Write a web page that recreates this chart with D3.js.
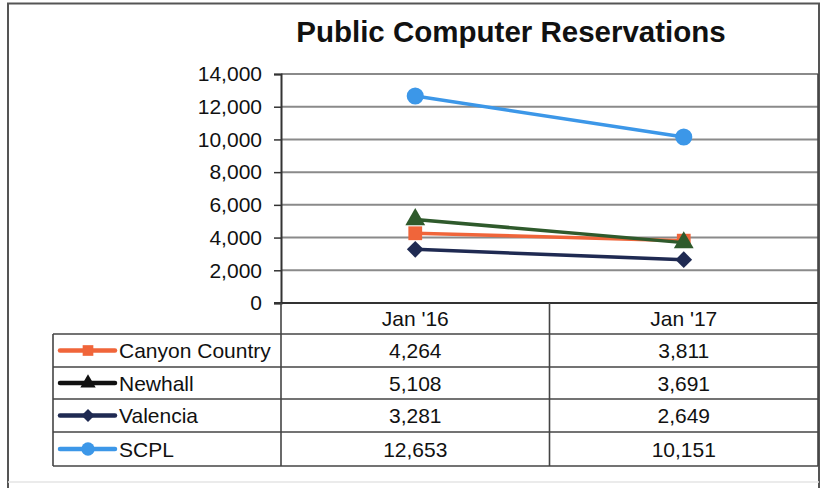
<!DOCTYPE html>
<html><head><meta charset="utf-8">
<script src="https://cdn.jsdelivr.net/npm/d3@7"></script>
<style>body{margin:0;background:#fff}svg{display:block}text{font-family:"Liberation Sans",Arial,sans-serif;fill:#111}</style>
</head><body>
<svg id="c" width="821" height="488"></svg>
<script>
const categories = ["Jan '16", "Jan '17"];
const seriesNames = ["Canyon Country", "Newhall", "Valencia", "SCPL"];
const canyonCountry = [4264, 3811];
const newhall = [5108, 3691];
const valencia = [3281, 2649];
const scpl = [12653, 10151];
const yTicks = [0, 2000, 4000, 6000, 8000, 10000, 12000, 14000];
const chartTitle = "Public Computer Reservations";

(function () {
const seriesValues = [canyonCountry, newhall, valencia, scpl];
const lineColors = ["#f0653a", "#2f5a2c", "#1f2a52", "#3c97e8"];
const legendColors = ["#f0653a", "#111111", "#1f2a52", "#3c97e8"];
const markers = [d3.symbolSquare, d3.symbolTriangle, d3.symbolSquare, d3.symbolCircle];
const rotations = [0, 0, 45, 0];
const markerSizes = [190, 170, 140, 230];

const svg = d3.select("#c");
const pLeft = 281, pRight = 818, pTop = 74, pBottom = 303;
const tableLeft = 53, rowTops = [334, 367, 399, 432, 466];

// outer frame
svg.append("path").attr("d", `M8,488 V3.5 H819 V488`).attr("fill", "none").attr("stroke", "#555").attr("stroke-width", 2);
svg.append("line").attr("x1", 8).attr("x2", 819).attr("y1", 482).attr("y2", 482).attr("stroke", "#e4e4e4").attr("stroke-width", 1.5);

svg.append("text").attr("x", 511).attr("y", 42).attr("text-anchor", "middle")
  .attr("font-size", 29.5).attr("font-weight", "bold").text(chartTitle);

const x = d3.scaleBand().domain(categories).range([pLeft, pRight]);
const y = d3.scaleLinear().domain([0, 14000]).range([pBottom, pTop]);

// gridlines
svg.append("g").selectAll("line").data(yTicks.filter(t => t > 0)).join("line")
  .attr("x1", pLeft).attr("x2", pRight).attr("y1", d => y(d)).attr("y2", d => y(d))
  .attr("stroke", "#8a8a8a").attr("stroke-width", 2);

// y axis
const yAxis = svg.append("g").attr("transform", `translate(${pLeft},0)`)
  .call(d3.axisLeft(y).tickValues(yTicks).tickSize(7).tickPadding(12).tickFormat(d3.format(",")));
yAxis.select(".domain").attr("stroke", "#333").attr("stroke-width", 2);
yAxis.selectAll(".tick line").attr("stroke", "#333").attr("stroke-width", 1.5);
yAxis.selectAll("text").attr("font-size", 21).attr("fill", "#111").attr("font-family", '"Liberation Sans",Arial,sans-serif');

// x axis line
svg.append("line").attr("x1", pLeft - 7).attr("x2", pRight).attr("y1", pBottom).attr("y2", pBottom).attr("stroke", "#333").attr("stroke-width", 2);

// table grid
const tg = svg.append("g").attr("stroke", "#444").attr("stroke-width", 1.6);
rowTops.forEach(r => tg.append("line").attr("x1", tableLeft).attr("x2", pRight).attr("y1", r).attr("y2", r));
tg.append("line").attr("x1", tableLeft).attr("x2", tableLeft).attr("y1", rowTops[0]).attr("y2", rowTops[4]);
tg.append("line").attr("x1", pLeft).attr("x2", pLeft).attr("y1", pBottom).attr("y2", rowTops[4]);
categories.slice(1).forEach(c => tg.append("line").attr("x1", x(c)).attr("x2", x(c)).attr("y1", pBottom).attr("y2", rowTops[4]));
tg.append("line").attr("x1", pRight).attr("x2", pRight).attr("y1", pTop).attr("y2", rowTops[4]);

// header labels
svg.append("g").selectAll("text").data(categories).join("text")
  .attr("x", d => x(d) + x.bandwidth() / 2).attr("y", 326).attr("text-anchor", "middle")
  .attr("font-size", 21).text(d => d);

// lines + markers
const line = d3.line().x((d, i) => x(categories[i]) + x.bandwidth() / 2).y(d => y(d));
seriesValues.forEach((vals, s) => {
  const g = svg.append("g");
  g.append("path").datum(vals).attr("d", line).attr("fill", "none")
    .attr("stroke", lineColors[s]).attr("stroke-width", 3.5);
  g.selectAll("path.m").data(vals).join("path").attr("class", "m")
    .attr("transform", (d, i) => `translate(${x(categories[i]) + x.bandwidth() / 2},${y(d)}) rotate(${rotations[s]})`)
    .attr("d", d3.symbol().type(markers[s]).size(markerSizes[s]))
    .attr("fill", lineColors[s]);
});

// table rows
seriesNames.forEach((name, s) => {
  const cy = (rowTops[s] + rowTops[s + 1]) / 2;
  const g = svg.append("g");
  g.append("line").attr("x1", 60).attr("x2", 115).attr("y1", cy).attr("y2", cy)
    .attr("stroke", legendColors[s]).attr("stroke-width", 4.5).attr("stroke-linecap", "round");
  g.append("path").attr("transform", `translate(88,${cy}) rotate(${rotations[s]})`)
    .attr("d", d3.symbol().type(markers[s]).size(markerSizes[s] * 0.6)).attr("fill", legendColors[s]);
  g.append("text").attr("x", 119).attr("y", cy + 7.5).attr("font-size", 21).text(name);
  seriesValues[s].forEach((v, i) => {
    g.append("text").attr("x", x(categories[i]) + x.bandwidth() / 2).attr("y", cy + 7.5)
      .attr("text-anchor", "middle").attr("font-size", 21).text(d3.format(",")(v));
  });
});
})();
</script>
</body></html>
